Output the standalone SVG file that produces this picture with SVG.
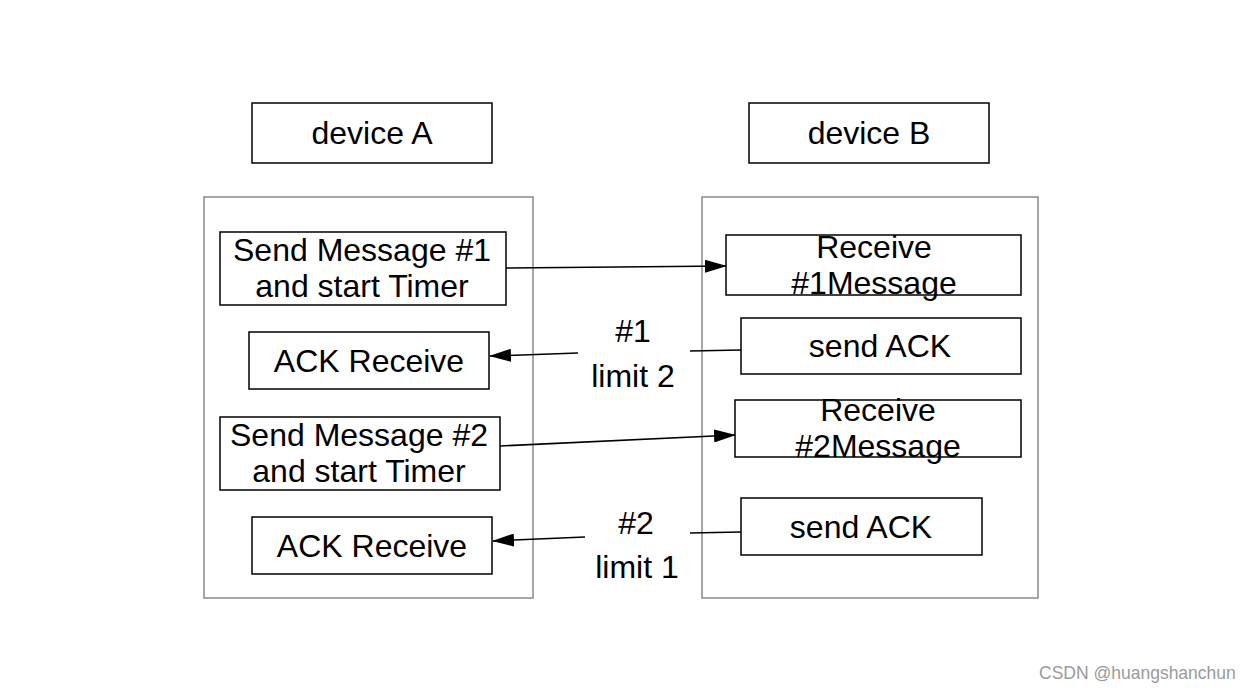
<svg xmlns="http://www.w3.org/2000/svg" width="1252" height="692" viewBox="0 0 1252 692">
<defs>
<marker id="arrB" markerWidth="22" markerHeight="13" refX="21" refY="6.5" orient="auto" markerUnits="userSpaceOnUse" viewBox="0 0 22 13">
<path d="M0,0 L22,6.5 L0,13 z" fill="#000"/>
</marker>
</defs>
<style>
text{font-family:"Liberation Sans",Arial,Helvetica,sans-serif;fill:#000;text-anchor:middle;font-size:32px}
.box{fill:#fff;stroke:#000;stroke-width:1.5}
.cont{fill:#fff;stroke:#888;stroke-width:1.5}
.conn{stroke:#000;stroke-width:1.5;fill:none}
.wm{font-size:17.5px;fill:#9a9a9a;text-anchor:start}
</style>
<rect width="1252" height="692" fill="#fff"/>
<g id="containerA"><rect class="cont" x="204" y="197" width="329" height="401"/></g>
<g id="containerB"><rect class="cont" x="702" y="197" width="336" height="401"/></g>
<g id="deviceA"><rect class="box" x="252" y="103" width="240" height="60"/><text x="372" y="144">device A</text></g>
<g id="deviceB"><rect class="box" x="749" y="103" width="240" height="60"/><text x="869" y="144">device B</text></g>
<g id="send1"><rect class="box" x="220" y="232" width="286" height="73"/><text x="362" y="261">Send Message #1</text><text x="362" y="297">and start Timer</text></g>
<g id="ack1"><rect class="box" x="249" y="332" width="240" height="57"/><text x="369" y="372">ACK Receive</text></g>
<g id="send2"><rect class="box" x="220" y="417" width="280" height="73"/><text x="359" y="446">Send Message #2</text><text x="359" y="482">and start Timer</text></g>
<g id="ack2"><rect class="box" x="252" y="517" width="240" height="57"/><text x="372" y="557">ACK Receive</text></g>
<g id="recv1"><rect class="box" x="726" y="235" width="295" height="60"/><text x="874" y="258">Receive</text><text x="874" y="294">#1Message</text></g>
<g id="sendack1"><rect class="box" x="741" y="318" width="280" height="56"/><text x="880" y="357">send ACK</text></g>
<g id="recv2"><rect class="box" x="735" y="400" width="286" height="57"/><text x="878" y="421">Receive</text><text x="878" y="457">#2Message</text></g>
<g id="sendack2"><rect class="box" x="741" y="498" width="241" height="57"/><text x="861" y="538">send ACK</text></g>
<g id="connectors">
<line class="conn" x1="506" y1="268" x2="726" y2="266" marker-end="url(#arrB)"/>
<line class="conn" x1="741" y1="350" x2="690" y2="351"/>
<line class="conn" x1="578" y1="353" x2="490" y2="356" marker-end="url(#arrB)"/>
<line class="conn" x1="500" y1="446" x2="735" y2="435" marker-end="url(#arrB)"/>
<line class="conn" x1="741" y1="532" x2="690" y2="533"/>
<line class="conn" x1="585" y1="537" x2="493" y2="541" marker-end="url(#arrB)"/>
</g>
<g id="labels">
<text x="633" y="342">#1</text><text x="633" y="387">limit 2</text>
<text x="636" y="534">#2</text><text x="637" y="578">limit 1</text>
</g>
<text class="wm" x="1039" y="679">CSDN @huangshanchun</text>
</svg>
